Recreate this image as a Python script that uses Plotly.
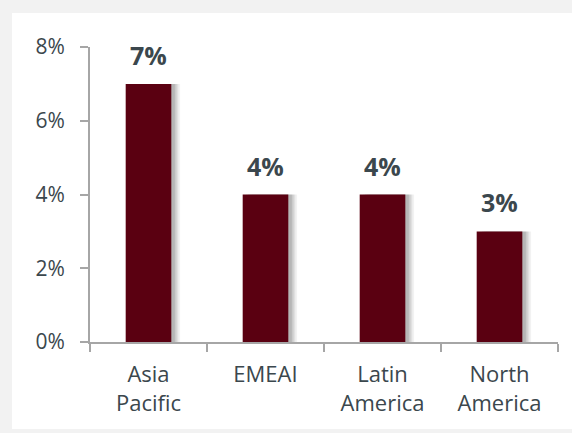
import plotly.graph_objects as go

categories = ["Asia<br>Pacific", "EMEAI", "Latin<br>America", "North<br>America"]
values = [0.07, 0.04, 0.04, 0.03]
value_labels = ["7%", "4%", "4%", "3%"]
y_ticks = [0, 0.02, 0.04, 0.06, 0.08]
y_tick_labels = ["0%", "2%", "4%", "6%", "8%"]

BAR = "#5a0011"
TEXT = "#3b474d"
AXIS = "#a6a6a6"
FONT = "Open Sans"
FRAME = "#f2f2f2"

fig = go.Figure()

# soft shadow layers
for off, alpha in [(0.075, 0.05), (0.06, 0.07), (0.045, 0.09), (0.03, 0.10)]:
    fig.add_trace(go.Bar(
        x=categories, y=values, width=0.39, offset=-0.195 + off,
        marker=dict(color=f"rgba(0,0,0,{alpha})", line=dict(width=0)),
        hoverinfo="skip", showlegend=False,
    ))

fig.add_trace(go.Bar(
    x=categories, y=values, width=0.39, offset=-0.195,
    marker=dict(color=BAR, line=dict(width=0)),
    showlegend=False,
))

for c, v, t in zip(categories, values, value_labels):
    fig.add_annotation(x=c, y=v, text=f"<b>{t}</b>", showarrow=False,
                       yanchor="bottom", yshift=10,
                       font=dict(family=FONT, size=25, color=TEXT))

# gray frame strips around the white panel (pixel -> paper coords)
def px(xp):
    return (xp - 90) / 468

def py(yp):
    return (342 - yp) / 295

for x0, x1, y0, y1 in [(-10, 600, -10, 13), (-10, 12, -10, 450), (-10, 600, 429, 450)]:
    fig.add_shape(type="rect", xref="paper", yref="paper",
                  x0=px(x0), x1=px(x1), y0=py(y1), y1=py(y0),
                  fillcolor=FRAME, line=dict(width=0), layer="below")

fig.update_layout(
    width=572, height=433,
    margin=dict(l=90, r=14, t=47, b=91),
    paper_bgcolor="white",
    plot_bgcolor="white",
    barmode="overlay",
    font=dict(family=FONT, color=TEXT),
    xaxis=dict(
        type="category", range=[-0.5, 3.5],
        showline=True, linecolor=AXIS, linewidth=2,
        ticks="outside", tickson="boundaries", ticklen=8, tickcolor=AXIS, tickwidth=2,
        tickfont=dict(family=FONT, size=22, color=TEXT),
        ticklabelstandoff=12,
        showgrid=False, fixedrange=True,
    ),
    yaxis=dict(
        range=[0, 0.08], tickvals=y_ticks, ticktext=y_tick_labels,
        showline=True, linecolor=AXIS, linewidth=2,
        ticks="outside", ticklen=8, tickcolor=AXIS, tickwidth=2,
        tickfont=dict(family=FONT, size=21, color=TEXT),
        ticklabelstandoff=11,
        showgrid=False, zeroline=False, fixedrange=True,
    ),
)

fig.write_html(
    "out.html",
    config={"displayModeBar": False},
    post_script="document.body.style.margin='0';document.body.style.overflow='hidden';",
)
